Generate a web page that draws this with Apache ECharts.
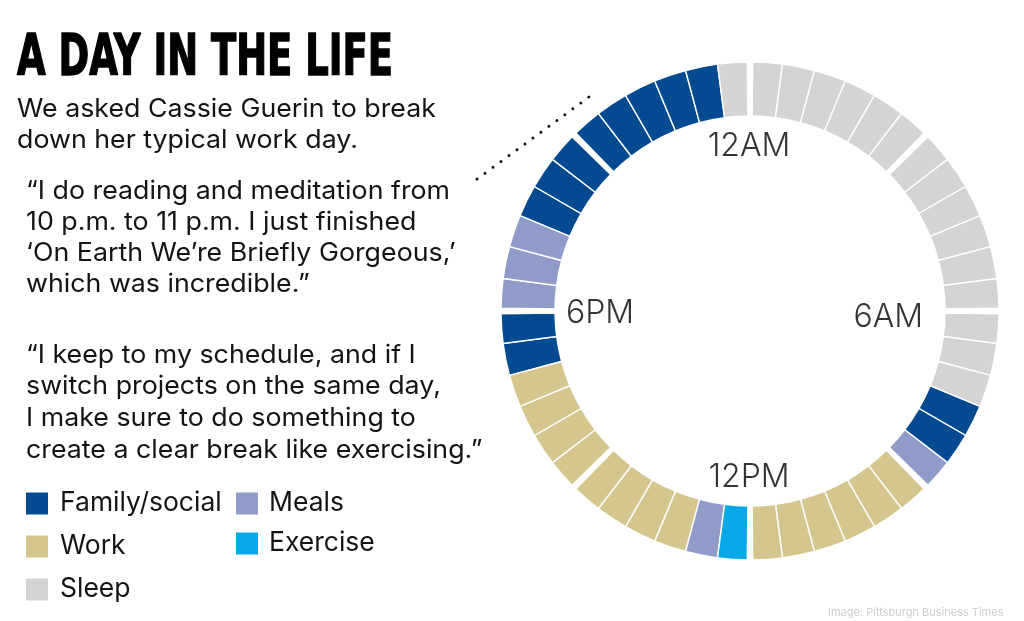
<!DOCTYPE html>
<html>
<head>
<meta charset="utf-8">
<script src="https://cdn.jsdelivr.net/npm/echarts@6/dist/echarts.min.js"></script>
<style>
html, body { margin: 0; padding: 0; background: #fff; }
#chart { width: 1024px; height: 621px; }
</style>
</head>
<body>
<div id="chart"></div>
<script>
// ---------------- DATA ----------------
const activities = ['Family/social', 'Work', 'Sleep', 'Meals', 'Exercise'];
const activityColors = ['#034a91', '#d5c68e', '#d4d4d5', '#8f9cc9', '#06a8e8'];
// Schedule blocks, in hours from midnight
const blockStart = [0, 7.5, 8.5, 9, 12, 12.5, 13, 17, 18, 19.5, 23.5];
const blockEnd = [7.5, 8.5, 9, 12, 12.5, 13, 17, 18, 19.5, 23.5, 24];
const blockActivity = ['Sleep', 'Family/social', 'Meals', 'Work', 'Exercise', 'Meals', 'Work', 'Family/social', 'Meals', 'Family/social', 'Sleep'];
const slotHours = 0.5;      // each segment is half an hour
const blockGroupHours = 3;  // wider gap every 3 hours
const hourTicks = [0, 6, 12, 18];
const hourLabels = ['12AM', '6AM', '12PM', '6PM'];

// ---------------- STYLE ----------------
const RING_IN = 195 / 249;
const LABEL_R = 181 / 249;
const FONT = 'Inter, "Noto Sans", sans-serif';
const TEXT_SCALE = 1.05;

const chart = echarts.init(document.getElementById('chart'), null, { renderer: 'canvas' });

function slotsFor(act) {
  const out = [];
  blockActivity.forEach((a, i) => {
    if (a !== act) return;
    for (let t = blockStart[i]; t < blockEnd[i] - 1e-9; t += slotHours) {
      out.push([t, t + slotHours]);
    }
  });
  return out;
}

function renderItem(params, api) {
  const cs = params.coordSys;
  const cx = cs.cx, cy = cs.cy;
  const s = api.value(0), e = api.value(1);
  const pOut0 = api.coord([1, s]);
  const pOut1 = api.coord([1, e]);
  const pIn0 = api.coord([RING_IN, s]);
  const rOut = Math.hypot(pOut0[0] - cx, pOut0[1] - cy);
  const rIn = Math.hypot(pIn0[0] - cx, pIn0[1] - cy);
  let a0 = Math.atan2(pOut0[1] - cy, pOut0[0] - cx);
  let a1 = Math.atan2(pOut1[1] - cy, pOut1[0] - cx);
  while (a1 <= a0 + 1e-6) a1 += Math.PI * 2;
  const rMid = (rIn + rOut) / 2;
  const big = 2.4 / rMid;
  const g0 = (Math.abs(s % blockGroupHours) < 1e-6) ? big : 0;
  const g1 = (Math.abs(e % blockGroupHours) < 1e-6) ? big : 0;
  return {
    type: 'sector',
    shape: { cx: cx, cy: cy, r0: rIn, r: rOut, startAngle: a0 + g0, endAngle: a1 - g1, clockwise: true },
    style: { fill: api.visual('color'), stroke: '#ffffff', lineWidth: 1.4 }
  };
}

const ringSeries = activities.map((act, i) => ({
  name: act,
  type: 'custom',
  coordinateSystem: 'polar',
  renderItem: renderItem,
  itemStyle: { color: activityColors[i] },
  data: slotsFor(act),
  silent: true,
  animation: false
}));

const labelPos = ['bottom', 'left', 'top', 'right'];
const labelOffset = [[-1, 0], [-8, 6], [-1, 1], [-3, 2]];
const hourLabelSeries = {
  type: 'scatter',
  coordinateSystem: 'polar',
  symbolSize: 0,
  silent: true,
  animation: false,
  data: hourTicks.map((h, i) => ({
    value: [LABEL_R, h],
    name: hourLabels[i],
    label: { position: labelPos[i], offset: labelOffset[i] }
  })),
  label: {
    show: true,
    formatter: '{b}',
    distance: 0,
    fontSize: 32,
    fontFamily: FONT,
    fontWeight: 350,
    color: '#000000'
  }
};

// measure title width to fit the reference width
function measure(text, font) {
  const c = document.createElement('canvas').getContext('2d');
  c.font = font;
  return c.measureText(text).width;
}
const titleText = 'A DAY IN THE LIFE';
const titleFont = 'bold 56px "Liberation Sans Narrow", "DejaVu Sans Condensed", "Liberation Sans", sans-serif';
const titleScale = 376 / measure(titleText, titleFont);

function bodyText(x, y, text, lh) {
  return {
    type: 'text', x: x, y: y, scaleX: TEXT_SCALE, scaleY: 1,
    style: { text: text, fontSize: 25.5, fontFamily: FONT, fill: '#141414', lineHeight: lh, verticalAlign: 'top', align: 'left' }
  };
}

const option = {
  backgroundColor: '#ffffff',
  animation: false,
  color: activityColors,
  polar: { center: [750, 311], radius: [0, 249] },
  angleAxis: {
    type: 'value', min: 0, max: 24, startAngle: 90, clockwise: true,
    axisLine: { show: false }, axisTick: { show: false }, axisLabel: { show: false }, splitLine: { show: false }
  },
  radiusAxis: {
    type: 'value', min: 0, max: 1,
    axisLine: { show: false }, axisTick: { show: false }, axisLabel: { show: false }, splitLine: { show: false }
  },
  legend: [
    {
      data: ['Family/social', 'Work', 'Sleep'],
      orient: 'vertical', left: 26, top: 490, padding: 0,
      icon: 'rect', itemWidth: 22, itemHeight: 22, itemGap: 16,
      selectedMode: false,
      textStyle: { fontSize: 26.5, fontFamily: FONT, color: '#141414', lineHeight: 22, padding: [0, 0, 0, 7] }
    },
    {
      data: ['Meals', 'Exercise'],
      orient: 'vertical', left: 236, top: 490, padding: 0,
      icon: 'rect', itemWidth: 22, itemHeight: 22, itemGap: 13,
      selectedMode: false,
      textStyle: { fontSize: 26.5, fontFamily: FONT, color: '#141414', lineHeight: 22, padding: [0, 0, 0, 6] }
    }
  ],
  graphic: [
    {
      type: 'text', x: 17, y: 60, scaleX: titleScale, scaleY: 1.02,
      style: { text: titleText, font: titleFont, fill: '#000', stroke: '#000', lineWidth: 1.4, verticalAlign: 'middle', align: 'left' }
    },
    bodyText(17, 94, 'We asked Cassie Guerin to break\ndown her typical work day.', 31),
    bodyText(26, 176, '\u201cI do reading and meditation from\n10 p.m. to 11 p.m. I just finished\n\u2018On Earth We\u2019re Briefly Gorgeous,\u2019\nwhich was incredible.\u201d', 31),
    bodyText(26, 339, '\u201cI keep to my schedule, and if I\nswitch projects on the same day,\nI make sure to do something to\ncreate a clear break like exercising.\u201d', 31.7),
    {
      type: 'polyline',
      shape: { points: [[477, 179], [589, 97]] },
      style: { stroke: '#111', lineWidth: 3, lineCap: 'round', lineDash: [0, 9.9], fill: null }
    },
    {
      type: 'text', x: 828, y: 613,
      style: { text: 'Image: Pittsburgh Business Times', fontSize: 11, fontFamily: FONT, fill: '#cfcfcf', verticalAlign: 'middle', align: 'left' }
    }
  ],
  series: ringSeries.concat([hourLabelSeries])
};

chart.setOption(option);
</script>
</body>
</html>
